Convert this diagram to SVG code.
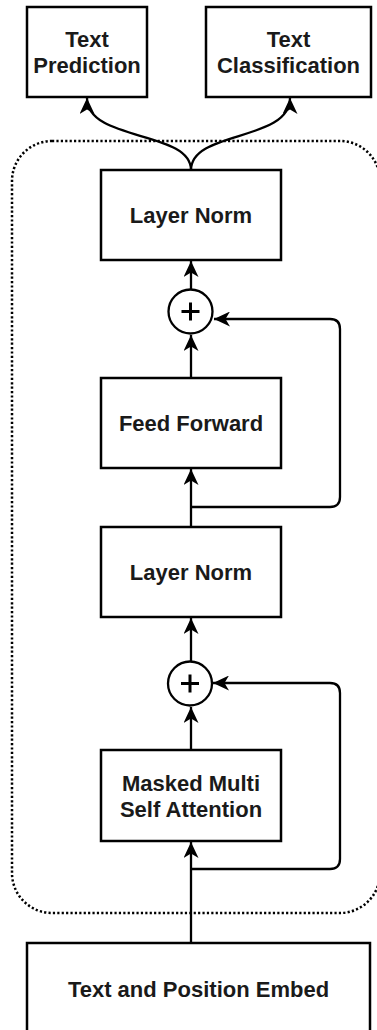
<svg xmlns="http://www.w3.org/2000/svg" width="377" height="1030" viewBox="0 0 377 1030">
<style>
.box{fill:#fff;stroke:#000;stroke-width:2.5}
.lbl{font-family:"Liberation Sans",Arial,sans-serif;font-weight:bold;font-size:22px;fill:#1a1a1a;text-anchor:middle}
.edge{fill:none;stroke:#000;stroke-width:2.3}
.circ{fill:#fff;stroke:#000;stroke-width:2.3}
</style>
<defs>
<marker id="arr" viewBox="0 0 17 15" refX="16" refY="7.5" markerWidth="17" markerHeight="15" markerUnits="userSpaceOnUse" orient="auto">
<path d="M0,0 L16,7.5 L0,15 L4.5,7.5 Z" fill="#000"/>
</marker>
</defs>
<rect x="12" y="141" width="368" height="772" rx="40" ry="40" fill="none" stroke="#000" stroke-width="2.5" stroke-dasharray="2.2 2.2"/>
<g id="connectors">
<path class="edge" d="M191,170 C191,130 87,142 87,98" marker-end="url(#arr)"/>
<path class="edge" d="M191,170 C191,130 290,142 290,98" marker-end="url(#arr)"/>
<path class="edge" d="M191,289 L191,261" marker-end="url(#arr)"/>
<path class="edge" d="M191,378 L191,335" marker-end="url(#arr)"/>
<path class="edge" d="M191,527 L191,469" marker-end="url(#arr)"/>
<path class="edge" d="M191,507 L330,507 Q340,507 340,497 L340,329 Q340,319 330,319 L214,319" marker-end="url(#arr)"/>
<path class="edge" d="M191,661 L191,618" marker-end="url(#arr)"/>
<path class="edge" d="M191,750 L191,707" marker-end="url(#arr)"/>
<path class="edge" d="M191,943 L191,842" marker-end="url(#arr)"/>
<path class="edge" d="M191,869 L330,869 Q340,869 340,859 L340,693 Q340,683 330,683 L213,683" marker-end="url(#arr)"/>
</g>
<g id="text-prediction">
<rect class="box" x="27" y="7" width="120" height="90"/>
<text class="lbl" x="87" y="47">Text</text>
<text class="lbl" x="87" y="73">Prediction</text>
</g>
<g id="text-classification">
<rect class="box" x="206" y="7" width="165" height="90"/>
<text class="lbl" x="288.5" y="47">Text</text>
<text class="lbl" x="288.5" y="73">Classification</text>
</g>
<g id="layer-norm-1">
<rect class="box" x="101" y="170" width="180" height="90"/>
<text class="lbl" x="191" y="223">Layer Norm</text>
</g>
<g id="add-1">
<circle class="circ" cx="190.5" cy="311.5" r="22"/>
<path d="M181.5,311.5 H199.5 M190.5,302.5 V320.5" stroke="#000" stroke-width="3" fill="none"/>
</g>
<g id="feed-forward">
<rect class="box" x="101" y="378" width="180" height="90"/>
<text class="lbl" x="191" y="431">Feed Forward</text>
</g>
<g id="layer-norm-2">
<rect class="box" x="101" y="527" width="180" height="90"/>
<text class="lbl" x="191" y="580">Layer Norm</text>
</g>
<g id="add-2">
<circle class="circ" cx="190" cy="683.5" r="22"/>
<path d="M181,683.5 H199 M190,674.5 V692.5" stroke="#000" stroke-width="3" fill="none"/>
</g>
<g id="masked-attention">
<rect class="box" x="101" y="750" width="180" height="91"/>
<text class="lbl" x="191" y="790.5">Masked Multi</text>
<text class="lbl" x="191" y="816.5">Self Attention</text>
</g>
<g id="embed">
<rect class="box" x="27" y="943" width="343" height="95"/>
<text class="lbl" x="198.5" y="996.5">Text and Position Embed</text>
</g>
</svg>
